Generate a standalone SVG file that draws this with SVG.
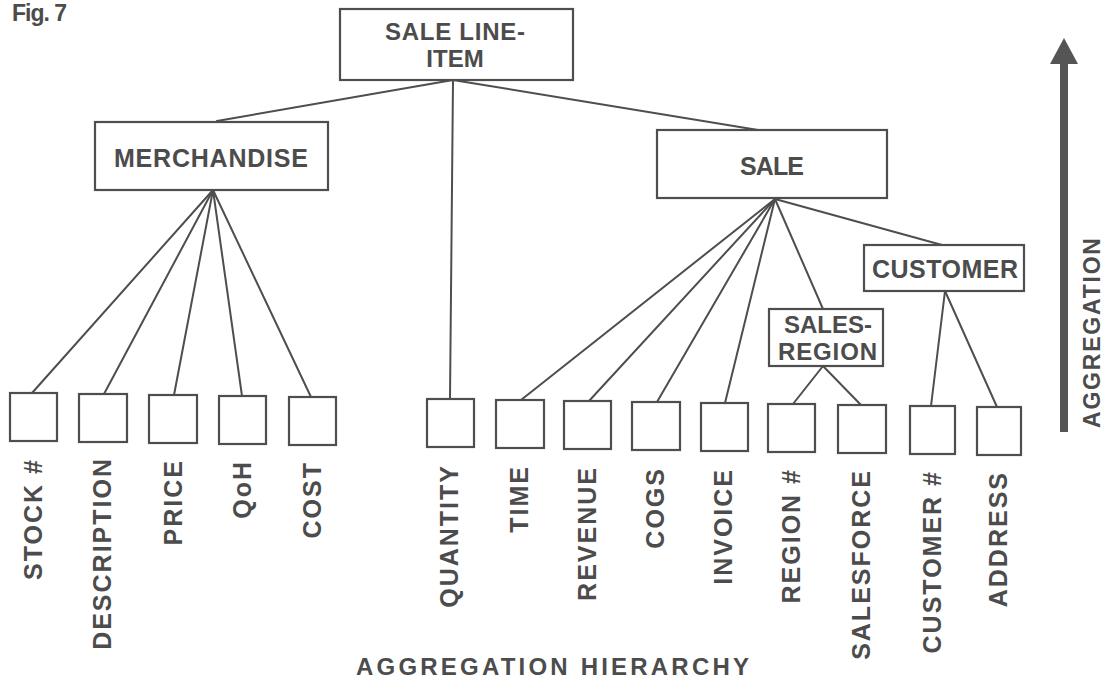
<svg xmlns="http://www.w3.org/2000/svg" width="1105" height="684" viewBox="0 0 1105 684">
  <style>
    .box { fill: #ffffff; stroke: #4e4e4e; stroke-width: 2.2; }
    .edge { fill: none; stroke: #4e4e4e; stroke-width: 2; stroke-linecap: round; }
    text { font-family: "Liberation Sans", Arial, Helvetica, sans-serif; font-weight: bold; fill: #4c4c4c; }
    .node { font-size: 25px; text-anchor: middle; }
    .node-sm { font-size: 24px; text-anchor: middle; }
    .attr { font-size: 25px; letter-spacing: 2px; text-anchor: end; }
    .title { font-size: 24px; }
    .side { font-size: 23px; }
    .fig { font-size: 23px; }
  </style>
  <rect width="1105" height="684" fill="#ffffff"/>

  <text class="fig" x="12" y="21" textLength="55">Fig. 7</text>

  <!-- connectors -->
  <g id="connectors">
    <line class="edge" x1="453" y1="80" x2="217" y2="121"/>
    <line class="edge" x1="453" y1="80" x2="758" y2="130"/>
    <line class="edge" x1="453" y1="80" x2="450" y2="399"/>
    <line class="edge" x1="213" y1="190" x2="32" y2="393"/>
    <line class="edge" x1="213" y1="190" x2="104" y2="394"/>
    <line class="edge" x1="213" y1="190" x2="174" y2="395"/>
    <line class="edge" x1="213" y1="190" x2="242" y2="396"/>
    <line class="edge" x1="213" y1="190" x2="311" y2="397"/>
    <line class="edge" x1="775" y1="199" x2="521" y2="400"/>
    <line class="edge" x1="775" y1="199" x2="589" y2="401"/>
    <line class="edge" x1="775" y1="199" x2="657" y2="402"/>
    <line class="edge" x1="775" y1="199" x2="725" y2="403"/>
    <line class="edge" x1="775" y1="199" x2="823" y2="309"/>
    <line class="edge" x1="775" y1="199" x2="942" y2="245"/>
    <line class="edge" x1="823" y1="366" x2="793" y2="404"/>
    <line class="edge" x1="823" y1="366" x2="861" y2="405"/>
    <line class="edge" x1="945" y1="291" x2="931" y2="406"/>
    <line class="edge" x1="945" y1="291" x2="997" y2="407"/>
  </g>

  <!-- entity nodes -->
  <g id="sale-line-item">
    <rect class="box" x="340" y="9" width="233" height="71"/>
    <text class="node-sm" x="455" y="40" textLength="140">SALE LINE-</text>
    <text class="node-sm" x="455" y="67">ITEM</text>
  </g>
  <g id="merchandise">
    <rect class="box" x="95" y="122" width="233" height="68"/>
    <text class="node" x="211" y="167" textLength="194">MERCHANDISE</text>
  </g>
  <g id="sale">
    <rect class="box" x="657" y="130" width="230" height="68"/>
    <text class="node" x="772" y="175" textLength="64">SALE</text>
  </g>
  <g id="customer">
    <rect class="box" x="864" y="245" width="160" height="46"/>
    <text class="node" x="945" y="278" textLength="146">CUSTOMER</text>
  </g>
  <g id="sales-region">
    <rect class="box" x="769" y="309" width="114" height="57"/>
    <text class="node-sm" x="828" y="333" textLength="88">SALES-</text>
    <text class="node-sm" x="827.5" y="360" textLength="99">REGION</text>
  </g>

  <!-- attribute nodes -->
  <g id="stock-no">
    <rect class="box" x="10" y="393" width="47" height="48"/>
    <text class="attr" transform="translate(42 458) rotate(-90)">STOCK #</text>
  </g>
  <g id="description">
    <rect class="box" x="79" y="394" width="48" height="48"/>
    <text class="attr" transform="translate(111 457) rotate(-90)">DESCRIPTION</text>
  </g>
  <g id="price">
    <rect class="box" x="149" y="395" width="48" height="48"/>
    <text class="attr" transform="translate(182 459) rotate(-90)">PRICE</text>
  </g>
  <g id="qoh">
    <rect class="box" x="219" y="396" width="47" height="48"/>
    <text class="attr" transform="translate(251 460) rotate(-90)">QoH</text>
  </g>
  <g id="cost">
    <rect class="box" x="289" y="397" width="47" height="48"/>
    <text class="attr" transform="translate(321 461) rotate(-90)">COST</text>
  </g>
  <g id="quantity">
    <rect class="box" x="427" y="399" width="47" height="48"/>
    <text class="attr" transform="translate(458 464) rotate(-90)">QUANTITY</text>
  </g>
  <g id="time">
    <rect class="box" x="496" y="400" width="48" height="48"/>
    <text class="attr" transform="translate(528 465) rotate(-90)">TIME</text>
  </g>
  <g id="revenue">
    <rect class="box" x="564" y="401" width="47" height="48"/>
    <text class="attr" transform="translate(596 466) rotate(-90)">REVENUE</text>
  </g>
  <g id="cogs">
    <rect class="box" x="632" y="402" width="48" height="48"/>
    <text class="attr" transform="translate(664 467) rotate(-90)">COGS</text>
  </g>
  <g id="invoice">
    <rect class="box" x="701" y="403" width="47" height="48"/>
    <text class="attr" transform="translate(732 468) rotate(-90)">INVOICE</text>
  </g>
  <g id="region-no">
    <rect class="box" x="768" y="404" width="47" height="48"/>
    <text class="attr" transform="translate(800 468) rotate(-90)">REGION #</text>
  </g>
  <g id="salesforce">
    <rect class="box" x="838" y="405" width="48" height="48"/>
    <text class="attr" transform="translate(870 469) rotate(-90)">SALESFORCE</text>
  </g>
  <g id="customer-no">
    <rect class="box" x="910" y="406" width="45" height="48"/>
    <text class="attr" transform="translate(941 470) rotate(-90)">CUSTOMER #</text>
  </g>
  <g id="address">
    <rect class="box" x="977" y="407" width="44" height="48"/>
    <text class="attr" transform="translate(1007 471) rotate(-90)">ADDRESS</text>
  </g>

  <!-- aggregation direction arrow -->
  <g id="aggregation-arrow">
    <rect x="1060" y="62" width="8" height="370" fill="#555555"/>
    <polygon points="1050,64 1064,38 1078,64" fill="#555555"/>
    <text class="side" transform="translate(1100 428) rotate(-90)" textLength="190">AGGREGATION</text>
  </g>

  <text class="title" x="356" y="675" textLength="393">AGGREGATION HIERARCHY</text>
</svg>
